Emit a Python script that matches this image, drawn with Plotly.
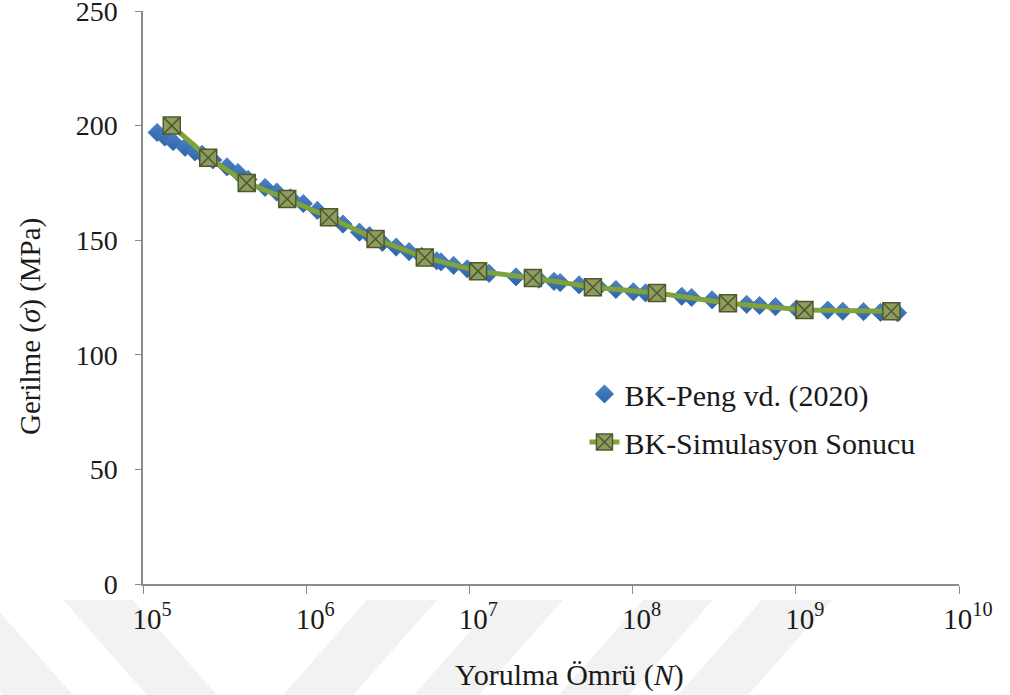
import plotly.graph_objects as go

# BK-Peng vd. (2020): fatigue life N and stress amplitude (MPa)
peng_N = [1.22e5, 1.36e5, 1.53e5, 1.81e5, 2.08e5, 2.30e5, 2.68e5, 3.27e5, 3.82e5,
          4.4e5, 5.6e5, 6.6e5, 8.0e5, 9.6e5, 1.17e6, 1.4e6, 1.68e6, 2.12e6, 2.44e6,
          2.93e6, 3.56e6, 4.27e6, 5.1e6, 6.3e6, 6.7e6, 8.0e6, 9.7e6, 1.32e7, 1.93e7,
          2.66e7, 3.3e7, 3.6e7, 4.7e7, 6.2e7, 7.9e7, 1.01e8, 1.2e8, 2.0e8, 2.3e8,
          3.07e8, 5.0e8, 6.0e8, 7.5e8, 1.01e9, 1.57e9, 1.94e9, 2.6e9, 3.3e9, 4.2e9]
peng_S = [197, 195, 193, 190.5, 188.5, 187.5, 185, 182, 179.5,
          176.5, 173, 171, 168.5, 166, 163, 160, 157, 153.5, 152,
          149, 147, 145, 143, 141, 140.5, 139, 137.5, 135.5, 134,
          133, 132, 131.5, 130.5, 129.5, 128.5, 127.5, 127, 125.5, 125,
          124, 122, 121.5, 121, 120, 119.5, 119, 118.8, 118.5, 118.3]

# BK-Simulasyon Sonucu
sim_N = [1.50e5, 2.51e5, 4.32e5, 7.65e5, 1.38e6, 2.66e6, 5.33e6, 1.13e7,
         2.45e7, 5.71e7, 1.41e8, 3.84e8, 1.13e9, 3.85e9]
sim_S = [200, 186, 175, 168, 160, 150.5, 142.5, 136.5,
         133.5, 129.5, 127, 122.5, 119.5, 119]

x_tickvals = [1e5, 1e6, 1e7, 1e8, 1e9, 1e10]
x_ticktext = ["10<sup>5</sup>", "10<sup>6</sup>", "10<sup>7</sup>",
              "10<sup>8</sup>", "10<sup>9</sup>", "10<sup>10</sup>"]
y_tickvals = [0, 50, 100, 150, 200, 250]

FONT = "Liberation Serif"
AXIS_GRAY = "#8c8c8c"

fig = go.Figure()

fig.add_trace(go.Scatter(
    x=peng_N, y=peng_S, mode="markers", name="BK-Peng vd. (2020)",
    legendgroup="a",
    marker=dict(symbol="diamond", size=14, color="#4a82c8",
                line=dict(color="#3b6fb0", width=0.8),
                gradient=dict(type="vertical", color="#2f63a8")),
))

fig.add_trace(go.Scatter(
    x=sim_N, y=sim_S, mode="lines+markers", name="BK-Simulasyon Sonucu",
    legendgroup="b",
    line=dict(color="#7fa23a", width=5),
    marker=dict(symbol="square-x", size=17, color="#8f9c60",
                line=dict(color="#4f5a2c", width=1.5)),
))

# light diagonal watermark bands below the axis (pixel polygons -> paper coords)
L, R, T, B = 143, 959, 11, 584
W = R - L
H = B - T


def px(x):
    return (x - L) / W


def py(y):
    return (B - y) / H


bands = [
    [(-81, 600), (-11, 600), (73, 695), (3, 695)],
    [(63, 600), (133, 600), (217, 695), (147, 695)],
    [(367, 600), (437, 600), (353, 695), (283, 695)],
    [(498, 600), (563, 600), (479, 695), (414, 695)],
    [(643, 600), (713, 600), (629, 695), (559, 695)],
    [(762, 600), (832, 600), (748, 695), (678, 695)],
]
shapes = []
for poly in bands:
    path = "M " + " L ".join(f"{px(x):.4f},{py(y):.4f}" for x, y in poly) + " Z"
    shapes.append(dict(type="path", path=path, xref="paper", yref="paper",
                       fillcolor="#f2f2f2", line=dict(width=0), layer="below"))

fig.update_layout(
    width=1010, height=695,
    margin=dict(l=L, r=1010 - R, t=T, b=695 - B),
    paper_bgcolor="white", plot_bgcolor="white",
    font=dict(family=FONT, size=29, color="#1a1a1a"),
    showlegend=True,
    legend=dict(x=0.541, y=0.377, xanchor="left", yanchor="top",
                bgcolor="rgba(0,0,0,0)", font=dict(family=FONT, size=30),
                traceorder="grouped", tracegroupgap=6, itemwidth=30),
    shapes=shapes,
    annotations=[
        dict(text="Yorulma Ömrü (<i>N</i>)", xref="paper", yref="paper",
             x=px(569), y=py(675), xanchor="center", yanchor="middle",
             showarrow=False, font=dict(family=FONT, size=30)),
        dict(text="Gerilme (<i>σ</i>) (MPa)", xref="paper", yref="paper",
             x=px(30), y=py(327), xanchor="center", yanchor="middle",
             textangle=-90, showarrow=False, font=dict(family=FONT, size=29)),
    ],
)

fig.update_xaxes(
    type="log", range=[5, 10], tickvals=x_tickvals, ticktext=x_ticktext,
    showgrid=False, zeroline=False, showline=True, linecolor=AXIS_GRAY,
    linewidth=1.5, ticks="outside", ticklen=8, tickcolor=AXIS_GRAY,
    tickwidth=1.2, tickfont=dict(family=FONT, size=29), ticklabelshift=9,
    ticklabeloverflow="allow", automargin=False,
)
fig.update_yaxes(
    range=[0, 250], tickvals=y_tickvals, showgrid=False, zeroline=False,
    showline=True, linecolor=AXIS_GRAY, linewidth=1.5, ticks="outside",
    ticklen=6, tickcolor=AXIS_GRAY, tickwidth=1.2,
    tickfont=dict(family=FONT, size=28),
    ticklabelstandoff=12, ticklabeloverflow="allow", automargin=False,
)

fig.write_html("out.html")
